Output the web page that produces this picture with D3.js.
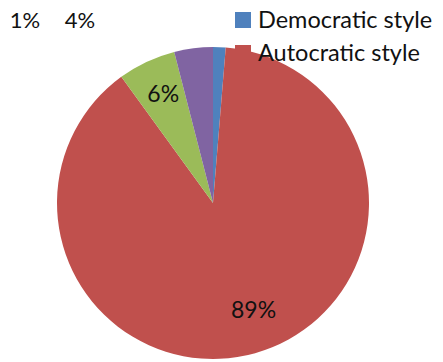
<!DOCTYPE html>
<html>
<head>
<meta charset="utf-8">
<script src="https://cdn.jsdelivr.net/npm/d3@7"></script>
<style>
  body { margin: 0; background: #fff; }
  text { font-family: Lato, "Open Sans", sans-serif; fill: #111; }
</style>
</head>
<body>
<div id="chart"></div>
<script>
const width = 443, height = 362;

// slices in drawing order, clockwise from 12 o'clock
const values = [1.3, 88.7, 6.0, 4.0];
const labels = ["1%", "89%", "6%", "4%"];
const colors = ["#4F81BD", "#C0504D", "#9BBB59", "#8064A2"];
const legendLabels = ["Democratic style", "Autocratic style"];

const svg = d3.select("#chart").append("svg")
    .attr("width", width)
    .attr("height", height);

const cx = 213, cy = 203, radius = 156;

const pie = d3.pie().sort(null).value(d => d);
const arcs = pie(values);
const arc = d3.arc().innerRadius(0).outerRadius(radius);
const labelArc = d3.arc().innerRadius(radius * 0.75).outerRadius(radius * 0.75);

const g = svg.append("g").attr("transform", `translate(${cx},${cy})`);

g.selectAll("path")
    .data(arcs)
    .enter().append("path")
    .attr("d", arc)
    .attr("fill", (d, i) => colors[i]);

// labels inside the big slices
g.selectAll("text.inside")
    .data(arcs.filter(d => d.data >= 5))
    .enter().append("text")
    .attr("class", "inside")
    .attr("transform", d => {
        const [x, y] = labelArc.centroid(d);
        return d.data > 50 ? `translate(${x + 9},${y - 6})` : `translate(${x},${y - 3})`;
    })
    .attr("text-anchor", "middle")
    .attr("dy", "0.35em")
    .style("font-size", "23px")
    .text(d => labels[arcs.indexOf(d)]);

// small slices: labels pushed out to the top left
const outside = [{ i: 0, x: 25 }, { i: 3, x: 80 }];
svg.selectAll("text.outside")
    .data(outside)
    .enter().append("text")
    .attr("class", "outside")
    .attr("x", d => d.x)
    .attr("y", 28)
    .attr("text-anchor", "middle")
    .style("font-size", "22px")
    .text(d => labels[d.i]);

// legend
const legend = svg.append("g").attr("transform", "translate(235, 12)");
const item = legend.selectAll("g")
    .data(legendLabels)
    .enter().append("g")
    .attr("transform", (d, i) => `translate(0, ${i * 33})`);

item.append("rect")
    .attr("width", 16)
    .attr("height", 16)
    .attr("fill", (d, i) => colors[i]);

item.append("text")
    .attr("x", 23)
    .attr("y", 16)
    .style("font-size", "23.5px")
    .text(d => d);
</script>
</body>
</html>
